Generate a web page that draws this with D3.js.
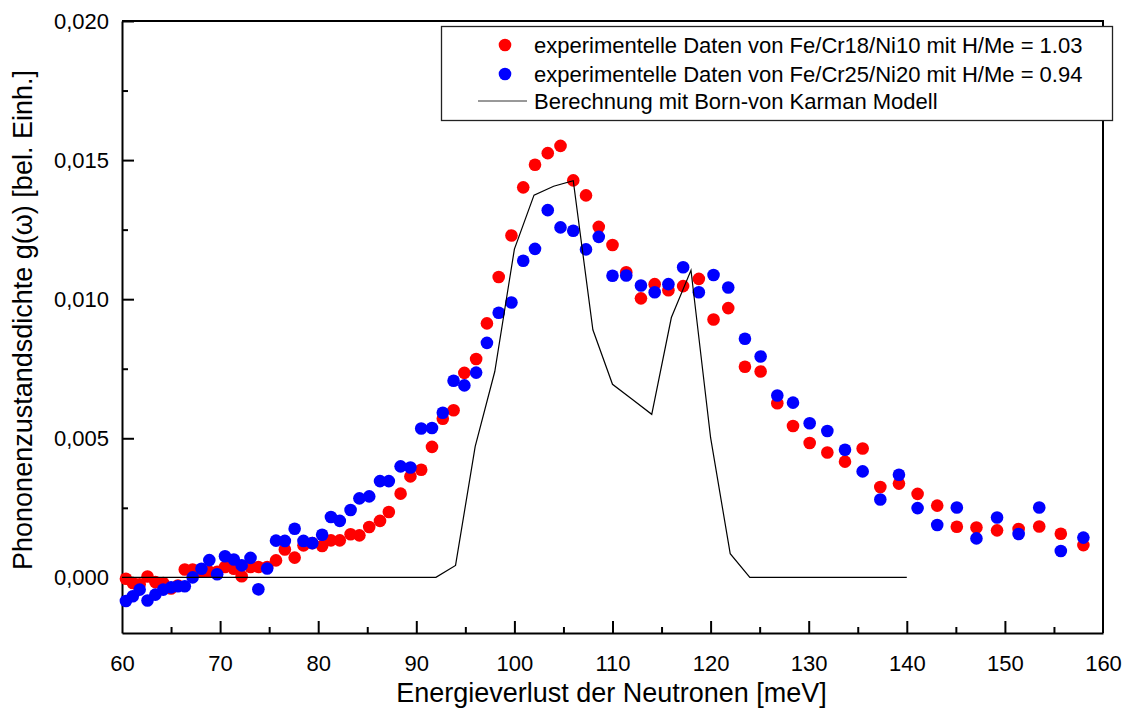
<!DOCTYPE html>
<html>
<head>
<meta charset="utf-8">
<script src="https://cdn.jsdelivr.net/npm/d3@7"></script>
<style>
  body { margin: 0; background: #fff; }
  svg text { font-family: "Liberation Sans", Arial, sans-serif; fill: #000; }
</style>
</head>
<body>
<div id="chart"></div>
<script>
// energy grid (meV) shared by both measured series
const energy = [60.4, 61.1, 61.8, 62.6, 63.4, 64.2, 65.0, 65.7, 66.4, 67.2, 68.1, 68.9, 69.7, 70.5, 71.4, 72.2, 73.1, 73.9, 74.8, 75.7,
  76.6, 77.6, 78.5, 79.4, 80.4, 81.3, 82.2, 83.3, 84.2, 85.2, 86.3, 87.2, 88.4, 89.4, 90.5, 91.6, 92.7, 93.8, 94.9, 96.1,
  97.2, 98.4, 99.7, 100.9, 102.1, 103.4, 104.7, 106.0, 107.3, 108.6, 110.0, 111.4, 112.9, 114.3, 115.7, 117.2, 118.8, 120.3,
  121.8, 123.5, 125.1, 126.8, 128.4, 130.1, 131.9, 133.7, 135.5, 137.3, 139.2, 141.1, 143.1, 145.1, 147.1, 149.2, 151.4,
  153.5, 155.7, 158.0];

const redVals = [-0.00005, -0.0002, -0.00025, 0.00003, -0.00017, -0.0002, -0.0004, -0.00029, 0.00028, 0.00028, 0.0002, 0.0002, 0.0002, 0.00037, 0.00031, 0.00004, 0.00037, 0.00037, 0.00037, 0.00061,
  0.001, 0.00071, 0.00115, 0.00123, 0.00113, 0.00133, 0.00133, 0.00155, 0.00151, 0.00181, 0.00203, 0.00235, 0.00301, 0.00363, 0.00387, 0.00469, 0.0057, 0.00601, 0.00735, 0.00785,
  0.00913, 0.0108, 0.01229, 0.01402, 0.01483, 0.01525, 0.01551, 0.01427, 0.01373, 0.0126, 0.01195, 0.01097, 0.01003, 0.01054, 0.01032, 0.01047, 0.01073, 0.00927,
  0.00968, 0.00757, 0.0074, 0.00626, 0.00544, 0.00483, 0.00449, 0.00416, 0.00463, 0.00325, 0.00337, 0.003, 0.00258, 0.00182, 0.00179, 0.00169, 0.00174,
  0.00183, 0.00157, 0.00116];

const blueVals = [-0.00085, -0.00068, -0.00044, -0.00083, -0.00062, -0.00044, -0.00036, -0.00032, -0.00032, 0.0, 0.00031, 0.00062, 0.00011, 0.00076, 0.00064, 0.00043, 0.0007, -0.00043, 0.00032, 0.00132,
  0.00131, 0.00175, 0.00131, 0.00123, 0.00153, 0.00217, 0.00203, 0.00242, 0.00284, 0.00291, 0.00346, 0.00346, 0.00399, 0.00395, 0.00535, 0.00537, 0.00592, 0.00707, 0.0069, 0.00736,
  0.00843, 0.00951, 0.00988, 0.01138, 0.01181, 0.0132, 0.01258, 0.01246, 0.01179, 0.01224, 0.01084, 0.01085, 0.01049, 0.01025, 0.01054, 0.01115, 0.01025, 0.01087,
  0.01042, 0.00858, 0.00794, 0.00654, 0.00628, 0.00554, 0.00526, 0.00459, 0.00381, 0.0028, 0.00369, 0.00249, 0.00188, 0.00251, 0.0014, 0.00215, 0.00156,
  0.00251, 0.00095, 0.00143];

// Born-von Karman calculation
const calcE = [60, 92, 94, 96, 98, 100, 102, 104, 106, 108, 110, 112, 114, 116, 118, 120, 122, 124, 140];
const calcVals = [0, 0, 0.00043, 0.0047, 0.0074, 0.0118, 0.01374, 0.01406, 0.01426, 0.0089, 0.00694, 0.0064, 0.00586, 0.00934, 0.01104, 0.00502, 0.00085, 0, 0];

const xTicks = [60, 70, 80, 90, 100, 110, 120, 130, 140, 150, 160];
const yTicks = [0, 0.005, 0.010, 0.015, 0.020];

const legendLabels = [
  "experimentelle Daten von Fe/Cr18/Ni10 mit H/Me = 1.03",
  "experimentelle Daten von Fe/Cr25/Ni20 mit H/Me = 0.94",
  "Berechnung mit Born-von Karman Modell"
];

const W = 1125, H = 713;
const mLeft = 122, mRight = 1103, mTop = 21, mBottom = 633;

const svg = d3.select("#chart").append("svg").attr("width", W).attr("height", H);

let x = d3.scaleLinear().domain([60, 160]).range([mLeft, mRight]);
let y = d3.scaleLinear().domain([-0.002, 0.020]).range([mBottom, mTop]);

// frame (top + right)
svg.append("path")
  .attr("d", `M${mLeft},${mTop}H${mRight}V${mBottom}`)
  .attr("fill", "none").attr("stroke", "#000").attr("stroke-width", 2);

// minor ticks
svg.append("g").attr("transform", `translate(0,${mBottom})`)
  .call(d3.axisBottom(x).tickValues(d3.range(65, 160, 10)).tickSizeInner(-6).tickSizeOuter(0).tickFormat(""))
  .call(g => g.select(".domain").remove())
  .selectAll("line").attr("stroke-width", 2);
svg.append("g").attr("transform", `translate(${mLeft},0)`)
  .call(d3.axisLeft(y).tickValues([0.0025, 0.0075, 0.0125, 0.0175]).tickSizeInner(-6).tickSizeOuter(0).tickFormat(""))
  .call(g => g.select(".domain").remove())
  .selectAll("line").attr("stroke-width", 2);

// major axes
let xAxis = svg.append("g").attr("transform", `translate(0,${mBottom})`)
  .call(d3.axisBottom(x).tickValues(xTicks).tickSizeInner(-12).tickSizeOuter(0).tickPadding(22));
let yAxis = svg.append("g").attr("transform", `translate(${mLeft},0)`)
  .call(d3.axisLeft(y).tickValues(yTicks).tickSizeInner(-12).tickSizeOuter(0).tickPadding(13)
    .tickFormat(d => d3.format(".3f")(d).replace(".", ",")));
[xAxis, yAxis].forEach(a => {
  a.select(".domain").attr("stroke-width", 2);
  a.selectAll("line").attr("stroke-width", 2);
  a.selectAll("text").style("font-size", "22px").attr("font-family", null);
});
xAxis.selectAll(".tick").filter(d => d === 60 || d === 160).select("line").remove();

// titles
svg.append("text").attr("x", (mLeft + mRight) / 2 - 1).attr("y", 702)
  .attr("text-anchor", "middle").style("font-size", "27px")
  .text("Energieverlust der Neutronen [meV]");
svg.append("text").attr("transform", `translate(32,320) rotate(-90)`)
  .attr("text-anchor", "middle").style("font-size", "27px")
  .text("Phononenzustandsdichte g(\u03c9) [bel. Einh.]");

// data points
const plot = svg.append("g");
plot.selectAll(".red").data(energy.map((e, i) => [e, redVals[i]])).enter()
  .append("circle").attr("class", "red")
  .attr("cx", d => x(d[0])).attr("cy", d => y(d[1])).attr("r", 6.3)
  .attr("fill", "#ff0000");
plot.selectAll(".blue").data(energy.map((e, i) => [e, blueVals[i]])).enter()
  .append("circle").attr("class", "blue")
  .attr("cx", d => x(d[0])).attr("cy", d => y(d[1])).attr("r", 6.3)
  .attr("fill", "#0000ff");

let line = d3.line().x(d => x(d[0])).y(d => y(d[1]));
plot.append("path").datum(calcE.map((e, i) => [e, calcVals[i]]))
  .attr("d", line).attr("fill", "none").attr("stroke", "#000").attr("stroke-width", 1.2);

// legend
const lg = svg.append("g");
lg.append("rect").attr("x", 441.5).attr("y", 26.5).attr("width", 671).attr("height", 94)
  .attr("fill", "#fff").attr("stroke", "#222").attr("stroke-width", 1.3);
const rowsY = [45, 74, 101];
lg.append("circle").attr("cx", 505).attr("cy", rowsY[0]).attr("r", 6.3).attr("fill", "#ff0000");
lg.append("circle").attr("cx", 505).attr("cy", rowsY[1]).attr("r", 6.3).attr("fill", "#0000ff");
lg.append("line").attr("x1", 478).attr("x2", 527).attr("y1", rowsY[2]).attr("y2", rowsY[2])
  .attr("stroke", "#333").attr("stroke-width", 1);
legendLabels.forEach((t, i) => {
  lg.append("text").attr("x", 534).attr("y", rowsY[i] + 8).style("font-size", "22px").text(t);
});
</script>
</body>
</html>
